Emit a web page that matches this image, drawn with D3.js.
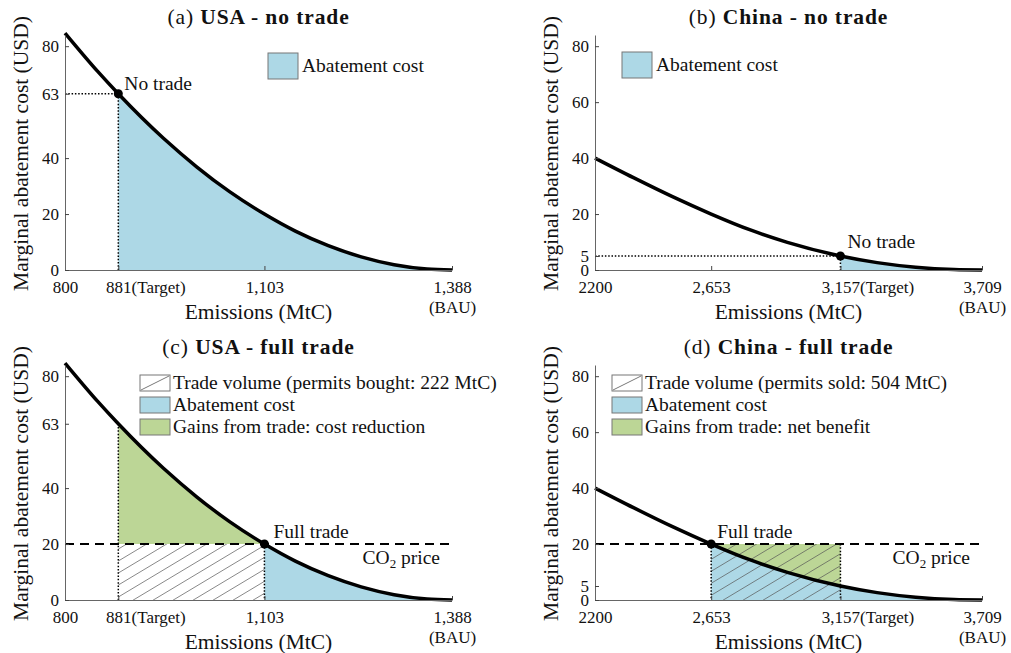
<!DOCTYPE html>
<html lang="en">
<head>
<meta charset="UTF-8">
<title>Marginal abatement cost - USA / China</title>
<script src="https://d3js.org/d3.v7.min.js"></script>
<style>
    body { margin: 0; background: white; }
    svg { display: block; }
    text { font-family: "Liberation Serif", "Times New Roman", serif; fill: #111; }
</style>
</head>
<body>
<div id="chart"></div>
<script>
    /* ---------------- data ---------------- */
    // marginal abatement cost curves, emissions (MtC) -> cost (USD)
    const usaEmis = [800, 850, 881, 950, 1000, 1050, 1103, 1150, 1200, 1250, 1300, 1350, 1388];
    const usaMac  = [84.7, 70.9, 63, 47, 36.9, 28, 20, 13.9, 8.7, 4.7, 1.9, 0.35, 0];
    const chinaEmis = [2200, 2350, 2500, 2653, 2803, 2950, 3157, 3300, 3450, 3600, 3709];
    const chinaMac  = [40, 33.0, 26.3, 20, 14.4, 9.9, 5, 2.63, 0.99, 0.16, 0];

    // key points
    const usaTarget = 881, usaBAU = 1388, usaFullTrade = 1103, usaNoTradeMac = 63;
    const chinaTarget = 3157, chinaBAU = 3709, chinaFullTrade = 2653, chinaNoTradeMac = 5;
    const co2Price = 20;

    // ticks
    const usaTicksX = [800, 881, 1103, 1388];
    const usaTickLabelsX = ["800", "881", "1,103", "1,388"];
    const chinaTicksX = [2200, 2653, 3157, 3709];
    const chinaTickLabelsX = ["2200", "2,653", "3,157", "3,709"];
    const usaTicksY = [0, 20, 40, 63, 80];
    const chinaTicksY = [0, 5, 20, 40, 60, 80];

    // texts
    const titleTags = ["(a) ", "(b) ", "(c) ", "(d) "];
    const titleNames = ["USA - no trade", "China - no trade", "USA - full trade", "China - full trade"];
    const legendNoTrade = ["Abatement cost"];
    const legendUsaTrade = ["Trade volume (permits bought: 222 MtC)", "Abatement cost", "Gains from trade: cost reduction"];
    const legendChinaTrade = ["Trade volume (permits sold: 504 MtC)", "Abatement cost", "Gains from trade: net benefit"];

    /* ---------------- layout ---------------- */
    const W = 1011, H = 653;
    const plotW = 387, plotH = 235, yMax = 84;
    const blue = "#add8e6", green = "#bcd696";
    const fsTick = 17, fsText = 19.5, fsLabel = 21.5, fsTitle = 21.5;

    const panels = [
        { i: 0, left: 65,  top: 35,  c: "usa",   trade: false, legX: 203, legY: 18, lab: [6, -4] },
        { i: 1, left: 595, top: 35,  c: "china", trade: false, legX: 27,  legY: 17, lab: [7, -8] },
        { i: 2, left: 65,  top: 365, c: "usa",   trade: true,  legX: 75,  legY: 10, lab: [9, -6] },
        { i: 3, left: 595, top: 365, c: "china", trade: true,  legX: 17,  legY: 10, lab: [6, -6] }
    ];

    const svg = d3.select("#chart").append("svg")
        .attr("width", W).attr("height", H);

    // hatch pattern for the trade volume
    const defs = svg.append("defs");
    const pat = defs.append("pattern")
        .attr("id", "hatch")
        .attr("patternUnits", "userSpaceOnUse")
        .attr("width", 20).attr("height", 12);
    [[0, 12, 20, 0], [-1, 0.6, 1, -0.6], [19, 12.6, 21, 11.4]].forEach(l => {
        pat.append("line")
            .attr("x1", l[0]).attr("y1", l[1]).attr("x2", l[2]).attr("y2", l[3])
            .attr("stroke", "#555").attr("stroke-width", 0.7);
    });

    panels.forEach(p => {
        const usa = p.c === "usa";
        const emis = usa ? usaEmis : chinaEmis;
        const mac = usa ? usaMac : chinaMac;
        const pts = emis.map((e, k) => ({ e: e, m: mac[k] }));
        const bau = usa ? usaBAU : chinaBAU;
        const target = usa ? usaTarget : chinaTarget;
        const full = usa ? usaFullTrade : chinaFullTrade;

        const x = d3.scaleLinear().domain([emis[0], bau]).range([0, plotW]);
        const y = d3.scaleLinear().domain([0, yMax]).range([plotH, 0]);

        const g = svg.append("g").attr("transform", `translate(${p.left},${p.top})`);

        const curve = d3.line().x(d => x(d.e)).y(d => y(d.m)).curve(d3.curveMonotoneX);
        const under = d3.area().x(d => x(d.e)).y0(y(0)).y1(d => y(d.m)).curve(d3.curveMonotoneX);
        const toPrice = d3.area().x(d => x(d.e)).y0(y(co2Price)).y1(d => y(d.m)).curve(d3.curveMonotoneX);

        // clip a full-width shape to an emissions range (panel coords)
        let clipN = 0;
        const fill = (gen, a, b, y1, y2, color) => {
            const id = `clip${p.i}_${clipN++}`;
            defs.append("clipPath").attr("id", id).append("rect")
                .attr("x", x(a)).attr("y", y1)
                .attr("width", x(b) - x(a)).attr("height", y2 - y1);
            g.append("path").attr("clip-path", `url(#${id})`)
                .attr("d", gen(pts)).attr("fill", color);
        };

        /* ---- fills ---- */
        if (!p.trade) {
            fill(under, target, bau, 0, plotH, blue);
        } else if (usa) {
            // cost saved above the price line
            fill(toPrice, target, full, 0, y(co2Price), green);
            fill(under, full, bau, 0, plotH, blue);
        } else {
            // net benefit: between price line and curve
            fill(under, full, bau, 0, plotH, blue);
            fill(toPrice, full, target, y(co2Price), plotH, green);
        }
        if (p.trade) {
            const a = Math.min(target, full), b = Math.max(target, full);
            g.append("rect")
                .attr("x", x(a)).attr("y", y(co2Price))
                .attr("width", x(b) - x(a)).attr("height", y(0) - y(co2Price))
                .attr("fill", "url(#hatch)");
        }

        /* ---- reference lines ---- */
        const dotted = (x1, y1, x2, y2) => g.append("line")
            .attr("x1", x1).attr("y1", y1).attr("x2", x2).attr("y2", y2)
            .attr("stroke", "#000").attr("stroke-width", 1.5)
            .attr("stroke-dasharray", "1.5,1.8");

        let px, py, label;
        if (!p.trade) {
            const m = usa ? usaNoTradeMac : chinaNoTradeMac;
            px = x(target); py = y(m); label = "No trade";
            dotted(0, py, px, py);
            dotted(px, py, px, y(0));
        } else {
            px = x(full); py = y(co2Price); label = "Full trade";
            if (usa) dotted(x(target), y(usaNoTradeMac), x(target), y(0));
            else dotted(x(target), y(co2Price), x(target), y(0));
            dotted(px, py, px, y(0));
            g.append("line")
                .attr("x1", 0).attr("x2", plotW)
                .attr("y1", y(co2Price)).attr("y2", y(co2Price))
                .attr("stroke", "#000").attr("stroke-width", 2)
                .attr("stroke-dasharray", "9,6");
            const co2 = g.append("text")
                .attr("x", plotW - 12).attr("y", y(co2Price) + 20)
                .attr("text-anchor", "end").attr("font-size", fsText);
            co2.append("tspan").text("CO");
            co2.append("tspan").attr("font-size", 13).attr("dy", 4).text("2");
            co2.append("tspan").attr("dy", -4).text(" price");
        }

        /* ---- curve and point ---- */
        g.append("path").attr("d", curve(pts))
            .attr("fill", "none").attr("stroke", "#000").attr("stroke-width", 3.5);
        g.append("circle").attr("cx", px).attr("cy", py).attr("r", 4.5).attr("fill", "#000");
        g.append("text")
            .attr("x", px + p.lab[0]).attr("y", py + p.lab[1])
            .attr("font-size", fsText).text(label);

        /* ---- axes ---- */
        const ticksX = usa ? usaTicksX : chinaTicksX;
        const labelsX = usa ? usaTickLabelsX : chinaTickLabelsX;
        const xAxis = g.append("g").attr("transform", `translate(0,${plotH})`)
            .call(d3.axisBottom(x).tickValues(ticksX)
                .tickFormat((d, k) => labelsX[k])
                .tickSizeInner(-4).tickSizeOuter(0).tickPadding(10.5));
        const yAxis = g.append("g")
            .call(d3.axisLeft(y).tickValues(usa ? usaTicksY : chinaTicksY)
                .tickSizeInner(-4).tickSizeOuter(0).tickPadding(6));
        [xAxis, yAxis].forEach(a => {
            a.attr("font-family", null).attr("font-size", null);
            a.selectAll("text").attr("font-size", fsTick).attr("fill", "#111");
            a.selectAll("line").attr("stroke", "#444");
            a.select(".domain").attr("stroke", "#666").attr("stroke-width", 1);
        });
        // "(Target)" suffix and "(BAU)" second line
        xAxis.selectAll(".tick").each(function (d) {
            const t = d3.select(this);
            if (d === target) {
                const w = t.select("text").node().getComputedTextLength();
                t.append("text")
                    .attr("x", w / 2).attr("y", 10.5).attr("dy", "0.71em")
                    .attr("font-size", fsTick).attr("text-anchor", "start").text("(Target)");
            }
            if (d === bau) {
                t.append("text")
                    .attr("y", 31).attr("dy", "0.71em")
                    .attr("font-size", fsTick).attr("text-anchor", "middle").text("(BAU)");
            }
        });

        /* ---- labels ---- */
        g.append("text")
            .attr("x", plotW / 2).attr("y", plotH + 49)
            .attr("text-anchor", "middle").attr("font-size", fsLabel)
            .text("Emissions (MtC)");
        g.append("text")
            .attr("transform", `translate(-37,${plotH / 2 + 1}) rotate(-90)`)
            .attr("text-anchor", "middle").attr("font-size", fsLabel)
            .text("Marginal abatement cost (USD)");
        const title = g.append("text")
            .attr("x", plotW / 2).attr("y", -11)
            .attr("text-anchor", "middle").attr("font-size", fsTitle)
            .attr("letter-spacing", 0.9);
        title.append("tspan").text(titleTags[p.i]);
        title.append("tspan").attr("font-weight", "bold").text(titleNames[p.i]);

        /* ---- legend ---- */
        const leg = g.append("g").attr("transform", `translate(${p.legX},${p.legY})`);
        if (!p.trade) {
            leg.append("rect").attr("width", 30).attr("height", 26)
                .attr("fill", blue).attr("stroke", "#777").attr("stroke-width", 1);
            leg.append("text").attr("x", 34).attr("y", 18.5).attr("font-size", fsText)
                .text(legendNoTrade[0]);
        } else {
            const names = usa ? legendUsaTrade : legendChinaTrade;
            const fills = ["#fff", blue, green];
            names.forEach((n, k) => {
                const r = leg.append("g").attr("transform", `translate(0,${k * 22})`);
                r.append("rect").attr("width", 30).attr("height", 16)
                    .attr("fill", fills[k]).attr("stroke", "#777").attr("stroke-width", 1);
                if (k === 0) {
                    r.append("line").attr("x1", 1).attr("y1", 15).attr("x2", 29).attr("y2", 1)
                        .attr("stroke", "#555").attr("stroke-width", 0.8);
                }
                r.append("text").attr("x", 33).attr("y", 14).attr("font-size", fsText).text(n);
            });
        }
    });
</script>
</body>
</html>
